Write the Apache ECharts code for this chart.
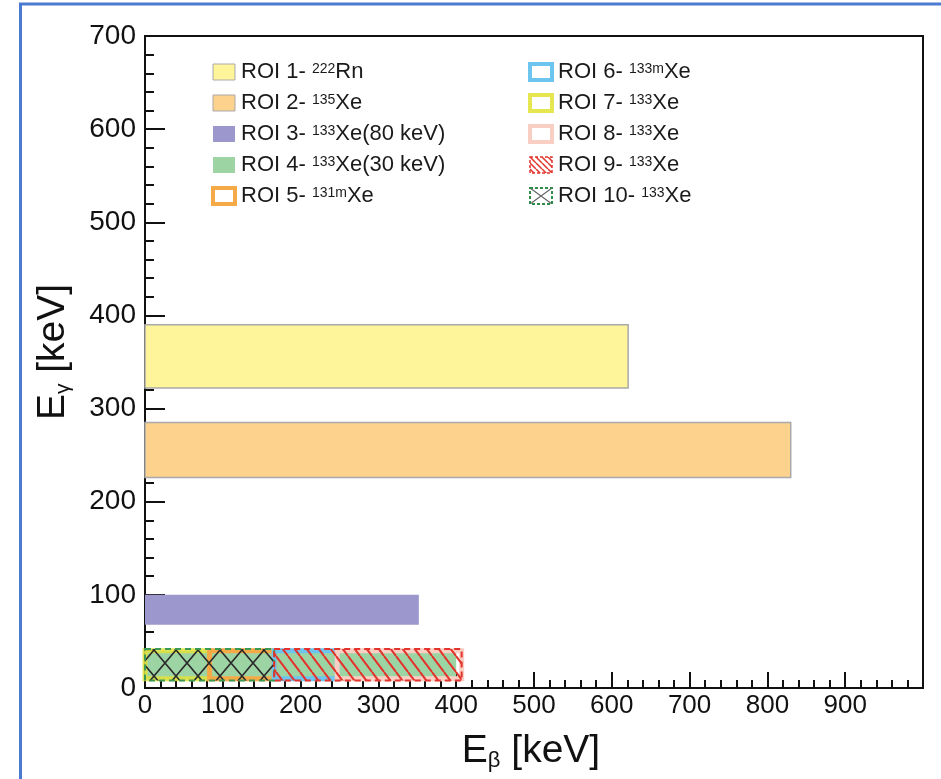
<!DOCTYPE html>
<html><head><meta charset="utf-8">
<script src="https://cdn.jsdelivr.net/npm/echarts@6/dist/echarts.min.js"></script>
<style>html,body{margin:0;padding:0;background:#fff}#c{width:941px;height:779px}</style>
</head><body><div id="c"></div>
<script>
// ---- data ----
const roiNames = ['ROI 1','ROI 2','ROI 3','ROI 4','ROI 5','ROI 6','ROI 7','ROI 8','ROI 9','ROI 10'];
const roiMass  = ['222','135','133','133','131m','133m','133','133','133','133'];
const roiSym   = ['Rn','Xe','Xe(80 keV)','Xe(30 keV)','Xe','Xe','Xe','Xe','Xe','Xe'];
const betaMin  = [0,   0,   0,   0,   83,  166, 0,   247, 166, 0];
const betaMax  = [621, 830, 352, 400, 166, 247, 83,  407, 407, 166];
const gammaMin = [322, 226, 68,  9,   10,  10,  10,  10,  8,   8];
const gammaMax = [390, 285, 100, 40,  40,  40,  40,  40,  42,  42];
const xTickLabels = ['0','100','200','300','400','500','600','700','800','900'];
const yTickLabels = ['0','100','200','300','400','500','600','700'];

// ---- patterns ----
function hatchPattern(w, h, color, lw, cross) {
  const c = document.createElement('canvas');
  c.width = w; c.height = h;
  const g = c.getContext('2d');
  g.strokeStyle = color; g.lineWidth = lw;
  g.beginPath();
  for (let k = -1; k <= 1; k++) {
    g.moveTo(k * w, 0); g.lineTo(k * w + w, h);
    if (cross) { g.moveTo(k * w + w, 0); g.lineTo(k * w, h); }
  }
  g.stroke();
  return { image: c, repeat: 'repeat' };
}
const redHatch = hatchPattern(12, 16, '#e2342c', 2, false);
const redHatchIcon = hatchPattern(6, 6, '#e2342c', 1.5, false);
const crossHatch = hatchPattern(22, 26, '#2a2a2a', 1.6, true);
const crossHatchIcon = hatchPattern(22, 16, '#666', 1.2, true);

// ---- styles (index = ROI number - 1) ----
const styles = [
  { fill: '#fef59b', stroke: '#a9a9a9', lineWidth: 1.5 },
  { fill: '#fcd28c', stroke: '#a9a9a9', lineWidth: 1.5 },
  { fill: '#9c97cc', stroke: null },
  { fill: '#9dd4a4', stroke: null },
  { fill: null, stroke: '#f6a947', lineWidth: 5 },
  { fill: null, stroke: '#6cc4ef', lineWidth: 5 },
  { fill: null, stroke: 'rgba(226,226,60,0.85)', lineWidth: 5 },
  { fill: null, stroke: '#f9cfc4', lineWidth: 5 },
  { fill: redHatch, stroke: '#e2342c', lineWidth: 2, lineDash: [6, 4] },
  { fill: crossHatch, stroke: '#3a9a55', lineWidth: 2, lineDash: [6, 4] }
];
const legendStyles = [
  { color: '#fef59b', borderColor: '#a9a9a9', borderWidth: 1 },
  { color: '#fcd28c', borderColor: '#a9a9a9', borderWidth: 1 },
  { color: '#9c97cc' },
  { color: '#9dd4a4' },
  { color: '#fff', borderColor: '#f6a947', borderWidth: 4 },
  { color: '#fff', borderColor: '#6cc4ef', borderWidth: 4 },
  { color: '#fff', borderColor: '#e6e650', borderWidth: 4 },
  { color: '#fff', borderColor: '#f9cfc4', borderWidth: 4 },
  { color: redHatchIcon, borderColor: '#e2342c', borderWidth: 1.5, borderType: [3, 2] },
  { color: crossHatchIcon, borderColor: '#2e8b4a', borderWidth: 2, borderType: [3, 2] }
];
const drawOrder = [0, 1, 2, 3, 6, 4, 5, 7, 9, 8];

const series = drawOrder.map((i, k) => ({
  type: 'custom',
  name: roiNames[i],
  silent: true,
  z: 2 + k,
  data: [[betaMin[i], betaMax[i], gammaMin[i], gammaMax[i]]],
  encode: { x: [0, 1], y: [2, 3] },
  renderItem: function (params, api) {
    const p1 = api.coord([api.value(0), api.value(3)]);
    const p2 = api.coord([api.value(1), api.value(2)]);
    const s = styles[i];
    return {
      type: 'rect',
      shape: { x: p1[0], y: p1[1], width: p2[0] - p1[0], height: p2[1] - p1[1] },
      style: { fill: s.fill || 'none', stroke: s.stroke || 'none', lineWidth: s.lineWidth || 0, lineDash: s.lineDash || null }
    };
  }
}));

const rich = {
  t: { fontSize: 22, lineHeight: 20, color: '#1a1a1a', fontFamily: 'Liberation Sans' },
  s: { fontSize: 14, lineHeight: 13, color: '#1a1a1a', fontFamily: 'Liberation Sans', verticalAlign: 'top' }
};
function legendFmt(name) {
  const i = roiNames.indexOf(name);
  return '{t|' + roiNames[i] + '- }{s|' + roiMass[i] + '}{t|' + roiSym[i] + '}';
}
function legendData(from, to) {
  const out = [];
  for (let i = from; i < to; i++) out.push({ name: roiNames[i], icon: 'rect', itemStyle: legendStyles[i] });
  return out;
}
const legendBase = {
  orient: 'vertical', top: 56, itemWidth: 22, itemHeight: 16, itemGap: 9,
  formatter: legendFmt, selectedMode: false, textStyle: { rich: rich, padding: [0, 0, 0, 1] }
};

const chart = echarts.init(document.getElementById('c'), null, { renderer: 'canvas' });
chart.setOption({
  animation: false,
  backgroundColor: '#fff',
  graphic: [{
    type: 'rect', silent: true, z: 100,
    shape: { x: 20.5, y: 4, width: 1000, height: 1000 },
    style: { fill: 'none', stroke: '#4a7bd0', lineWidth: 3 }
  }],
  grid: { left: 145, right: 18, top: 36, bottom: 91, show: true, borderColor: '#111', borderWidth: 2, backgroundColor: 'transparent' },
  legend: [
    Object.assign({ left: 206, data: legendData(0, 5) }, legendBase),
    Object.assign({ left: 523, data: legendData(5, 10) }, legendBase)
  ],
  xAxis: {
    type: 'value', min: 0, max: 1000, interval: 100,
    axisLine: { show: true, lineStyle: { color: '#111', width: 2 } },
    axisTick: { show: true, inside: true, length: 16, lineStyle: { color: '#111', width: 2 } },
    minorTick: { show: true, splitNumber: 5, length: 8, lineStyle: { color: '#111', width: 2 } },
    splitLine: { show: false },
    axisLabel: { fontSize: 26, color: '#111', margin: 5, fontFamily: 'Liberation Sans',
      formatter: v => { const j = Math.round(v / 100); return j < xTickLabels.length ? xTickLabels[j] : ''; } },
    name: '{e|E}{s|β}{e| [keV]}', nameLocation: 'middle', nameGap: 42,
    nameTextStyle: { padding: [0, 6, 0, 0], rich: {
      e: { fontSize: 39, lineHeight: 42, color: '#111', fontFamily: 'Liberation Sans' },
      s: { fontSize: 22, lineHeight: 24, color: '#111', fontFamily: 'Liberation Sans', verticalAlign: 'bottom' } } }
  },
  yAxis: {
    type: 'value', min: 0, max: 700, interval: 100,
    axisLine: { show: true, lineStyle: { color: '#111', width: 2 } },
    axisTick: { show: true, inside: true, length: 20, lineStyle: { color: '#111', width: 2 } },
    minorTick: { show: true, splitNumber: 5, length: 9, lineStyle: { color: '#111', width: 2 } },
    splitLine: { show: false },
    axisLabel: { fontSize: 28, color: '#111', margin: 9, fontFamily: 'Liberation Sans',
      formatter: v => yTickLabels[Math.round(v / 100)] },
    name: '{e|E}{s|γ}{e| [keV]}', nameLocation: 'middle', nameRotate: 90, nameGap: 71,
    nameTextStyle: { padding: [0, 0, 0, 20], rich: {
      e: { fontSize: 39, lineHeight: 42, color: '#111', fontFamily: 'Liberation Sans' },
      s: { fontSize: 21, lineHeight: 24, color: '#111', fontFamily: 'Liberation Sans', verticalAlign: 'bottom' } } }
  },
  series: series
});
</script></body></html>
